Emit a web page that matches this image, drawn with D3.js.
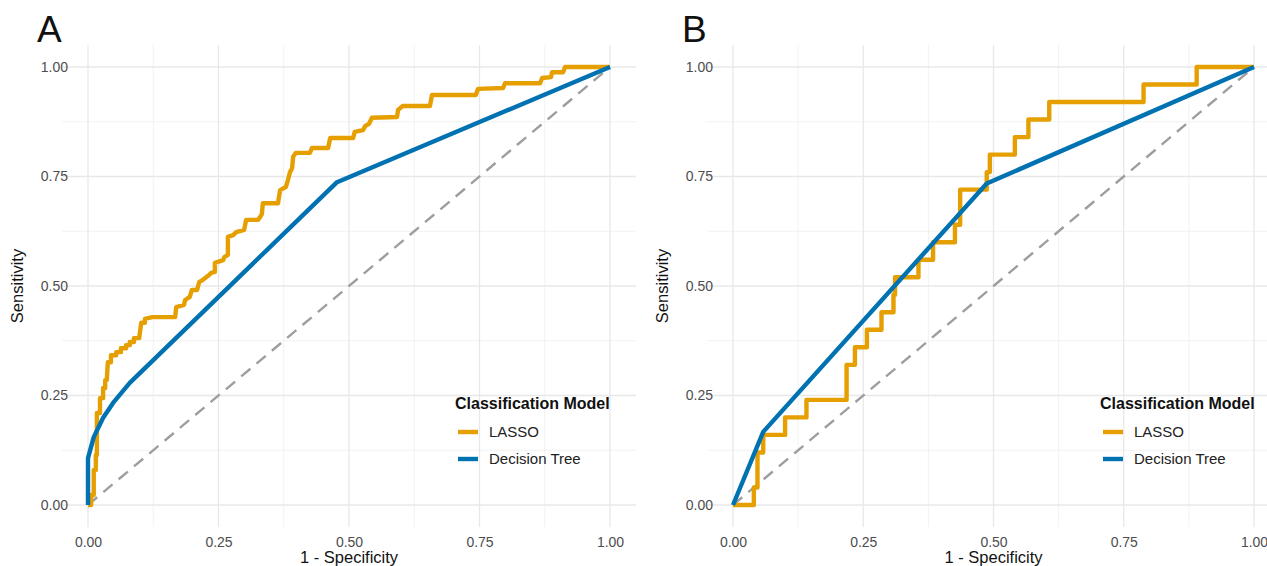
<!DOCTYPE html>
<html>
<head>
<meta charset="utf-8">
<script src="https://cdn.jsdelivr.net/npm/d3@7"></script>
<style>
  html, body { margin: 0; padding: 0; background: #ffffff; }
  svg { display: block; }
  text { font-family: "Liberation Sans", Arial, sans-serif; }
</style>
</head>
<body>
<svg id="chart" width="1267" height="566"></svg>
<script>
// ---------------- data ----------------
const panelLabels = ["A", "B"];
const modelNames = ["LASSO", "Decision Tree"];
const legendTitle = "Classification Model";
const xTitle = "1 - Specificity";
const yTitle = "Sensitivity";
const majorTicks = [0, 0.25, 0.5, 0.75, 1];
const minorTicks = [0.125, 0.375, 0.625, 0.875];

// Panel A – LASSO ROC (1 - specificity, sensitivity)
const lassoA_fpr = [0,0.006,0.006,0.011,0.011,0.015,0.015,0.017,0.017,0.023,0.023,0.029,0.029,0.033,0.033,0.036,0.038,0.044,0.044,0.054,0.054,0.063,0.063,0.073,0.073,0.080,0.080,0.088,0.088,0.098,0.102,0.109,0.109,0.123,0.167,0.169,0.184,0.186,0.195,0.199,0.209,0.213,0.220,0.232,0.236,0.243,0.243,0.259,0.261,0.268,0.268,0.278,0.284,0.299,0.303,0.326,0.330,0.333,0.335,0.364,0.368,0.379,0.383,0.387,0.391,0.393,0.398,0.425,0.429,0.460,0.464,0.508,0.511,0.527,0.531,0.538,0.544,0.592,0.594,0.603,0.655,0.659,0.743,0.747,0.795,0.799,0.866,0.870,0.887,0.889,0.910,0.914,1];
const lassoA_tpr = [0,0,0.023,0.023,0.080,0.080,0.114,0.114,0.210,0.210,0.244,0.244,0.267,0.267,0.285,0.285,0.326,0.326,0.342,0.342,0.349,0.349,0.358,0.358,0.365,0.365,0.372,0.372,0.381,0.381,0.416,0.416,0.425,0.429,0.429,0.452,0.457,0.468,0.475,0.491,0.491,0.509,0.514,0.525,0.530,0.532,0.553,0.559,0.566,0.571,0.612,0.616,0.623,0.628,0.651,0.651,0.658,0.664,0.689,0.689,0.719,0.726,0.742,0.760,0.769,0.795,0.804,0.804,0.815,0.815,0.838,0.838,0.852,0.856,0.865,0.870,0.884,0.886,0.902,0.911,0.911,0.936,0.936,0.950,0.952,0.963,0.963,0.975,0.977,0.988,0.988,1,1];
// Panel A – Decision tree ROC
const treeA_fpr = [0, 0, 0.011, 0.029, 0.048, 0.080, 0.477, 1];
const treeA_tpr = [0, 0.107, 0.155, 0.199, 0.233, 0.279, 0.737, 1];

// Panel B – LASSO ROC
const lassoB_fpr = [0,0.040,0.040,0.047,0.047,0.058,0.058,0.100,0.100,0.141,0.141,0.218,0.218,0.234,0.234,0.257,0.257,0.285,0.285,0.308,0.308,0.311,0.311,0.356,0.356,0.384,0.384,0.426,0.426,0.436,0.436,0.487,0.487,0.493,0.493,0.541,0.541,0.567,0.567,0.607,0.607,0.788,0.788,0.890,0.890,1];
const lassoB_tpr = [0,0,0.04,0.04,0.12,0.12,0.16,0.16,0.20,0.20,0.24,0.24,0.32,0.32,0.36,0.36,0.40,0.40,0.44,0.44,0.48,0.48,0.52,0.52,0.56,0.56,0.60,0.60,0.64,0.64,0.72,0.72,0.76,0.76,0.80,0.80,0.84,0.84,0.88,0.88,0.92,0.92,0.96,0.96,1,1];
// Panel B – Decision tree ROC
const treeB_fpr = [0, 0.058, 0.487, 1];
const treeB_tpr = [0, 0.167, 0.734, 1];

const colors = ["#E69F00", "#0072B2"];

// ---------------- layout ----------------
const svg = d3.select("#chart");
const panels = [
  { label: panelLabels[0], x0: 88,  x1: 610,  lasso: [lassoA_fpr, lassoA_tpr], tree: [treeA_fpr, treeA_tpr] },
  { label: panelLabels[1], x0: 733, x1: 1254, lasso: [lassoB_fpr, lassoB_tpr], tree: [treeB_fpr, treeB_tpr] }
];
const yBottom = 505, yTop = 67;

panels.forEach(p => {
  const x = d3.scaleLinear().domain([0, 1]).range([p.x0, p.x1]);
  const y = d3.scaleLinear().domain([0, 1]).range([yBottom, yTop]);
  const [xlo, xhi] = [x(-0.05), x(1.05)];
  const [ylo, yhi] = [y(-0.05), y(1.05)];
  const g = svg.append("g");

  // minor grid
  g.selectAll(".vminor").data(minorTicks).join("line")
    .attr("x1", d => x(d)).attr("x2", d => x(d)).attr("y1", yhi).attr("y2", ylo)
    .attr("stroke", "#efefef").attr("stroke-width", 0.8);
  g.selectAll(".hminor").data(minorTicks).join("line")
    .attr("y1", d => y(d)).attr("y2", d => y(d)).attr("x1", xlo).attr("x2", xhi)
    .attr("stroke", "#efefef").attr("stroke-width", 0.8);
  // major grid
  g.selectAll(".vmajor").data(majorTicks).join("line")
    .attr("x1", d => x(d)).attr("x2", d => x(d)).attr("y1", yhi).attr("y2", ylo)
    .attr("stroke", "#e8e8e8").attr("stroke-width", 1.3);
  g.selectAll(".hmajor").data(majorTicks).join("line")
    .attr("y1", d => y(d)).attr("y2", d => y(d)).attr("x1", xlo).attr("x2", xhi)
    .attr("stroke", "#e8e8e8").attr("stroke-width", 1.3);

  // axes (tick labels only)
  const xAxis = d3.axisBottom(x).tickValues(majorTicks).tickFormat(d3.format(".2f")).tickSize(0).tickPadding(0);
  const gx = g.append("g").attr("transform", `translate(0,${ylo + 7})`).call(xAxis);
  gx.select(".domain").remove();
  gx.selectAll("text").attr("fill", "#4d4d4d").attr("font-size", 14).attr("dy", "0.9em")
    .style("font-family", "Liberation Sans, Arial, sans-serif");
  const yAxis = d3.axisLeft(y).tickValues(majorTicks).tickFormat(d3.format(".2f")).tickSize(0).tickPadding(0);
  const gy = g.append("g").attr("transform", `translate(${p.x0 - 20},0)`).call(yAxis);
  gy.select(".domain").remove();
  gy.selectAll("text").attr("fill", "#4d4d4d").attr("font-size", 14)
    .style("font-family", "Liberation Sans, Arial, sans-serif");

  // axis titles
  g.append("text").attr("x", (p.x0 + p.x1) / 2).attr("y", 563).attr("text-anchor", "middle")
    .attr("font-size", 16.5).attr("fill", "#111").text(xTitle);
  g.append("text").attr("transform", `translate(${p.x0 - 65},${(yTop + yBottom) / 2}) rotate(-90)`)
    .attr("text-anchor", "middle").attr("font-size", 16.5).attr("fill", "#111").text(yTitle);

  // panel tag
  g.append("text").attr("x", p.x0 - 51).attr("y", 42).attr("font-size", 37).attr("fill", "#111").text(p.label);

  // reference diagonal
  const line = d3.line().x(d => x(d[0])).y(d => y(d[1]));
  g.append("path").datum([[0, 0], [1, 1]]).attr("d", line)
    .attr("fill", "none").attr("stroke", "#9e9e9e").attr("stroke-width", 2.4).attr("stroke-dasharray", "12,8");

  // ROC curves
  const series = [p.lasso, p.tree];
  series.forEach((s, i) => {
    const pts = s[0].map((fx, k) => [fx, s[1][k]]);
    g.append("path").datum(pts).attr("d", line)
      .attr("fill", "none").attr("stroke", colors[i]).attr("stroke-width", 4.4)
      .attr("stroke-linejoin", "round").attr("stroke-linecap", "butt");
  });

  // legend
  const lx = p.x0 + 367, ly = 409;
  g.append("text").attr("x", lx).attr("y", ly).attr("font-size", 16).attr("font-weight", "bold")
    .attr("fill", "#111").text(legendTitle);
  modelNames.forEach((name, i) => {
    const cy = 432 + i * 27;
    g.append("line").attr("x1", lx + 3).attr("x2", lx + 23).attr("y1", cy).attr("y2", cy)
      .attr("stroke", colors[i]).attr("stroke-width", 4.4);
    g.append("text").attr("x", lx + 34).attr("y", cy + 5).attr("font-size", 15).attr("fill", "#222").text(name);
  });
});
</script>
</body>
</html>
